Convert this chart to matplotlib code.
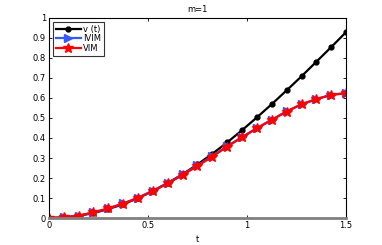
import numpy as np
import matplotlib
matplotlib.use('Agg')
import matplotlib.pyplot as plt

t = [0, 0.075, 0.15, 0.225, 0.3, 0.375, 0.45, 0.525, 0.6, 0.675, 0.75,
     0.825, 0.9, 0.975, 1.05, 1.125, 1.2, 1.275, 1.35, 1.425, 1.5]
v_exact = [0, 0.003, 0.011, 0.025, 0.045, 0.069, 0.100, 0.135, 0.175, 0.219, 0.268,
           0.321, 0.378, 0.439, 0.503, 0.569, 0.638, 0.708, 0.781, 0.854, 0.929]
ivim = [0, 0.003, 0.012, 0.028, 0.048, 0.073, 0.102, 0.137, 0.176, 0.218, 0.263,
        0.310, 0.359, 0.405, 0.450, 0.492, 0.533, 0.569, 0.595, 0.616, 0.625]
vim = [0, 0.003, 0.012, 0.028, 0.048, 0.072, 0.100, 0.135, 0.173, 0.215, 0.260,
       0.307, 0.357, 0.403, 0.448, 0.490, 0.532, 0.568, 0.593, 0.615, 0.623]

plt.rcParams['font.family'] = 'DejaVu Sans'
fig = plt.figure(figsize=(3.82, 2.45), dpi=100)
ax = fig.add_axes([0.128, 0.110, 0.778, 0.817])

ax.plot(t, v_exact, color='black', lw=1.6, marker='o', ms=3.5, label='v (t)')
ax.plot(t, ivim, color=(0.2, 0.35, 1.0), lw=1.6, marker='>', ms=5.5, label='IVIM')
ax.plot(t, vim, color='red', lw=1.6, marker='*', ms=7.5, label='VIM')

ax.set_xlim(0, 1.5)
ax.set_ylim(0, 1)
ax.set_xticks([0, 0.5, 1, 1.5])
ax.set_xticklabels(['0', '0.5', '1', '1.5'])
ax.set_yticks(np.arange(0, 1.01, 0.1))
ax.set_yticklabels(['0', '0.1', '0.2', '0.3', '0.4', '0.5', '0.6', '0.7', '0.8', '0.9', '1'])
ax.tick_params(direction='in', top=True, right=True, labelsize=6, length=2.5, width=0.6, pad=2)
for s in ['left', 'right', 'top']:
    ax.spines[s].set_linewidth(0.8)
ax.spines['bottom'].set_color('gray')
ax.spines['bottom'].set_linewidth(2)

ax.set_xlabel('t', fontsize=6, labelpad=4)
ax.set_title('m=1', fontsize=6, pad=4)
leg = ax.legend(loc='upper left', fontsize=6, fancybox=False, edgecolor='black',
                handlelength=3, borderpad=0.3, labelspacing=0.1, handletextpad=0.3,
                borderaxespad=0.5)
leg.get_frame().set_linewidth(0.8)

fig.savefig('out.png', dpi=100)
